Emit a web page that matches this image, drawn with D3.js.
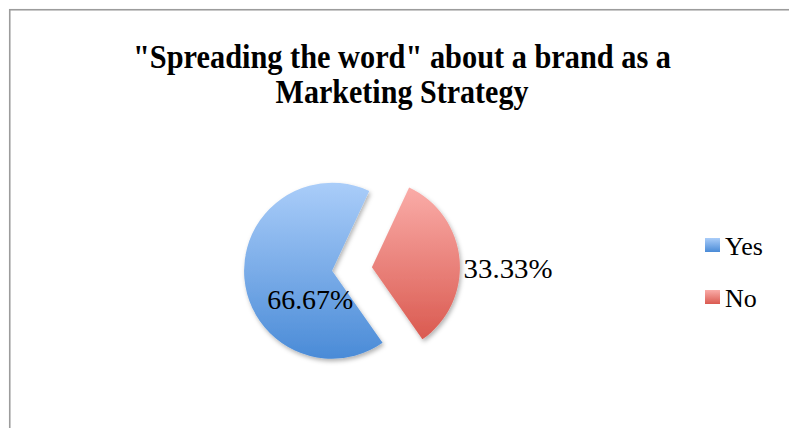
<!DOCTYPE html>
<html>
<head>
<meta charset="utf-8">
<script src="https://cdn.jsdelivr.net/npm/d3@7"></script>
<style>
  html, body { margin: 0; padding: 0; background: #fff; }
  svg { display: block; }
</style>
</head>
<body>
<svg id="chart" width="789" height="428"></svg>
<script>
// Survey answers
const categories = ["Yes", "No"];
const values = [66.67, 33.33];
const labels = ["66.67%", "33.33%"];
const titleLines = ["\"Spreading the word\" about a brand as a", "Marketing Strategy"];
const gradientStops = [["#aacdf9", "#4a8bd7"], ["#faaca8", "#da5a50"]];

const W = 789, H = 428;
const svg = d3.select("#chart");
const defs = svg.append("defs");

// frame
svg.append("rect")
  .attr("x", 9.75).attr("y", 9.75)
  .attr("width", W + 20).attr("height", H + 20)
  .attr("fill", "#fff")
  .attr("stroke", "#9c9c9c")
  .attr("stroke-width", 1.6);

// vertical gradients per category
gradientStops.forEach((s, i) => {
  const g = defs.append("linearGradient")
    .attr("id", "grad" + i)
    .attr("x1", 0).attr("y1", 0).attr("x2", 0).attr("y2", 1);
  g.append("stop").attr("offset", "0%").attr("stop-color", s[0]);
  g.append("stop").attr("offset", "100%").attr("stop-color", s[1]);
});

const shadow = defs.append("filter").attr("id", "shadow")
  .attr("x", "-20%").attr("y", "-20%").attr("width", "140%").attr("height", "140%");
shadow.append("feDropShadow")
  .attr("dx", 1.5).attr("dy", 2.5).attr("stdDeviation", 2.2)
  .attr("flood-color", "#000").attr("flood-opacity", 0.3);

// title, condensed to fit its line widths
const title = svg.append("g")
  .attr("font-family", "'Liberation Serif', 'DejaVu Serif', serif")
  .attr("font-weight", "bold")
  .attr("font-size", 34)
  .attr("fill", "#000")
  .attr("text-anchor", "middle");
const titleWidths = [538, 253];
titleLines.forEach((t, i) => {
  title.append("text")
    .attr("x", 402)
    .attr("y", 68 + i * 35)
    .attr("textLength", titleWidths[i])
    .attr("lengthAdjust", "spacingAndGlyphs")
    .text(t);
});

// pie
const cx = 352, cy = 269, R = 88, explode = 20;
const startOffset = 145 * Math.PI / 180;
const pie = d3.pie().sort(null)
  .startAngle(startOffset)
  .endAngle(startOffset + 2 * Math.PI);
const arcs = pie(values);
const arc = d3.arc().innerRadius(0).outerRadius(R);

const pieG = svg.append("g").attr("transform", `translate(${cx},${cy})`);
const slices = pieG.selectAll("g.slice").data(arcs).join("g")
  .attr("class", "slice")
  .attr("transform", d => {
    const a = (d.startAngle + d.endAngle) / 2;
    return `translate(${explode * Math.sin(a)},${-explode * Math.cos(a)})`;
  });
slices.append("path")
  .attr("d", arc)
  .attr("fill", (d, i) => `url(#grad${i})`)
  .attr("filter", "url(#shadow)");

// value labels
const labelFont = "'Liberation Serif', 'DejaVu Serif', serif";
const labelWidths = [86, 89];
arcs.forEach((d, i) => {
  const a = (d.startAngle + d.endAngle) / 2;
  let x, y, anchor;
  if (i === 0) {
    // inside the larger slice, below its middle
    const c = d3.arc().innerRadius(0).outerRadius(R).centroid(d);
    x = c[0] + explode * Math.sin(a) + 22;
    y = c[1] - explode * Math.cos(a) + 34;
    anchor = "middle";
  } else {
    // outside the smaller slice
    x = (R + explode + 4) * Math.sin(a);
    y = -(R + explode) * Math.cos(a) + 18;
    anchor = "start";
  }
  pieG.append("text")
    .attr("x", x).attr("y", y)
    .attr("text-anchor", anchor)
    .attr("font-family", labelFont)
    .attr("font-size", 27)
    .attr("textLength", labelWidths[i])
    .attr("lengthAdjust", "spacingAndGlyphs")
    .attr("fill", "#000")
    .text(labels[i]);
});

// legend
const legend = svg.append("g").attr("transform", "translate(705,238)");
const item = legend.selectAll("g").data(categories).join("g")
  .attr("transform", (d, i) => `translate(0,${i * 52})`);
item.append("rect")
  .attr("width", 15).attr("height", 14)
  .attr("fill", (d, i) => `url(#grad${i})`);
item.append("text")
  .attr("x", 20).attr("y", 17)
  .attr("font-family", labelFont)
  .attr("font-size", 26)
  .attr("fill", "#000")
  .text(d => d);
</script>
</body>
</html>
